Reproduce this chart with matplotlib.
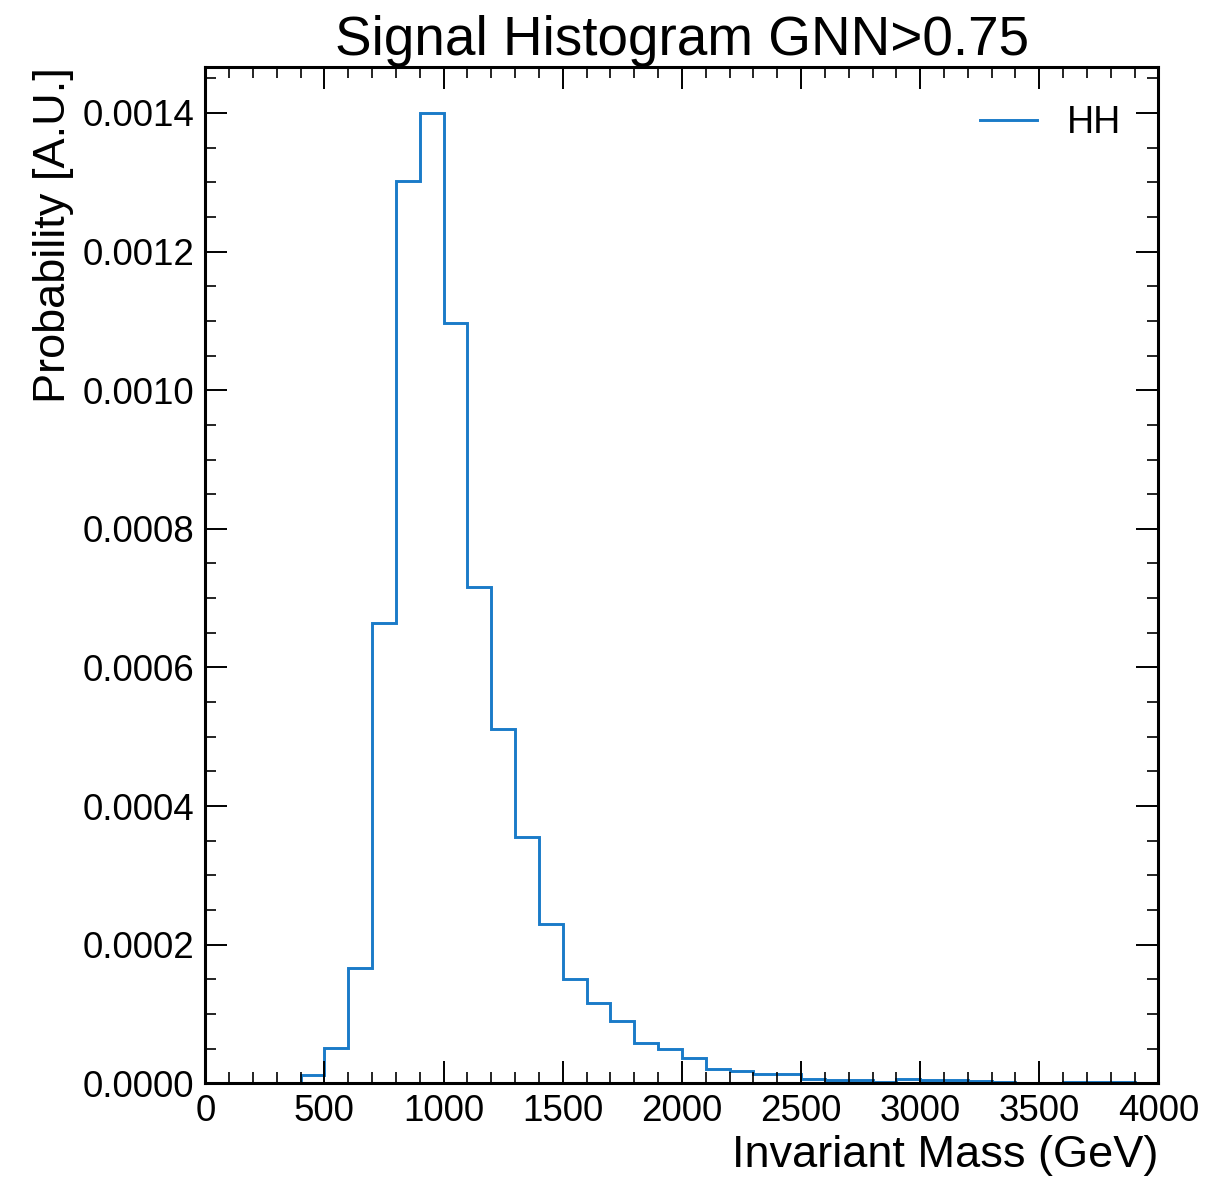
import matplotlib
matplotlib.use("Agg")
import matplotlib.pyplot as plt
import numpy as np
from matplotlib.ticker import MultipleLocator

# bin edges every 100 GeV from 0 to 4000
bin_edges = np.arange(0, 4100, 100)
hh_values = [
    0, 0, 0, 0,
    0.0000126, 0.0000505, 0.000166, 0.000664, 0.001302, 0.0014,
    0.001097, 0.000716, 0.000511, 0.000356, 0.00023, 0.000151,
    0.000116, 0.0000905, 0.0000577, 0.0000495, 0.000037, 0.0000212,
    0.0000178, 0.000014, 0.000014, 0.0000062, 0.0000043, 0.000004,
    0.000002, 0.0000062, 0.0000043, 0.000004, 0.000003, 0.000002,
    0.0000005, 0.0000005, 0.000002, 0.000002, 0.000002, 0.0000005,
]

plt.rcParams['font.family'] = ['Liberation Sans', 'DejaVu Sans']
plt.rcParams['axes.linewidth'] = 2.2

fig = plt.figure(figsize=(12.22, 11.8), dpi=100)
ax = fig.add_axes([0.168, 0.082, 0.780, 0.861])

ax.stairs(hh_values, bin_edges, color='#1a7bc8', linewidth=2.1, label='HH')

ax.set_xlim(0, 4000)
ax.set_ylim(0, 0.001466)
ax.xaxis.set_major_locator(MultipleLocator(500))
ax.xaxis.set_minor_locator(MultipleLocator(100))
ax.yaxis.set_major_locator(MultipleLocator(0.0002))
ax.yaxis.set_minor_locator(MultipleLocator(0.00005))
ax.yaxis.set_major_formatter(matplotlib.ticker.FormatStrFormatter('%.4f'))

ax.tick_params(which='both', direction='in', top=True, right=True, labelsize=26.5)
ax.tick_params(which='major', length=16, width=1.4, pad=8)
ax.tick_params(which='minor', length=8, width=1.2)

ax.set_xlabel('Invariant Mass (GeV)', fontsize=32.5, loc='right', labelpad=4)
ax.set_ylabel('Probability [A.U.]', fontsize=32.5, loc='top', labelpad=6)
ax.set_title('Signal Histogram GNN>0.75', fontsize=39.5, pad=4)

ax.legend(loc='upper right', frameon=False, fontsize=27, handlelength=1.5,
          borderaxespad=0.6)

fig.savefig('out.png', dpi=100)
